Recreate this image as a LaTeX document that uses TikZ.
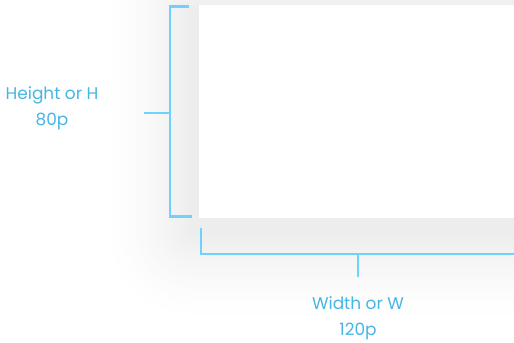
\documentclass[tikz,border=0pt]{standalone}
\usepackage{fontspec}
\setmainfont{Poppins}

\definecolor{lineblue}{RGB}{110,210,255}
\definecolor{textblue}{RGB}{70,182,230}

\begin{document}
\begin{tikzpicture}[
    x=1bp, y=-1bp,
    card/.style={rectangle, fill=white, minimum width=340bp, minimum height=213bp, inner sep=0pt},
    brace/.style={draw=lineblue, line width=2.6bp},
    dimlabel/.style={text=textblue, align=center, font=\fontsize{17}{26}\selectfont}
]
\clip (0,0) rectangle (514,342);
\fill[white] (0,0) rectangle (514,342);

% Soft shadow, outside in
\foreach \r in {92,90,...,2}{
  \pgfmathsetmacro\shade{7.5*(1-\r/94)^1.6}
  \fill[black!\shade, rounded corners=\r bp] (194-\r,14-\r) rectangle (545+\r,230+\r);
}

% Card
\node[card, anchor=north west] (card) at (199,5) {};

% Labels
\node[dimlabel] (height) at (52,108) {Height or H\\80p};
\node[dimlabel] (width) at (358,318) {Width or W\\120p};

% Height bracket
\coordinate (htop) at (189,6.5);
\coordinate (hbot) at (192,216.5);
\coordinate (hmid) at (170,113);
\coordinate (htick) at (144,113);
\draw[brace] (htop) -| (170,216.5) -- (hbot);
\draw[brace] (htick) -- (hmid);

% Width bracket
\coordinate (wleft) at (201,228);
\coordinate (wright) at (520,254);
\coordinate (wmid) at (358,254);
\coordinate (wtick) at (358,277);
\draw[brace] (wleft) |- (wright);
\draw[brace] (wmid) -- (wtick);

\end{tikzpicture}
\end{document}
